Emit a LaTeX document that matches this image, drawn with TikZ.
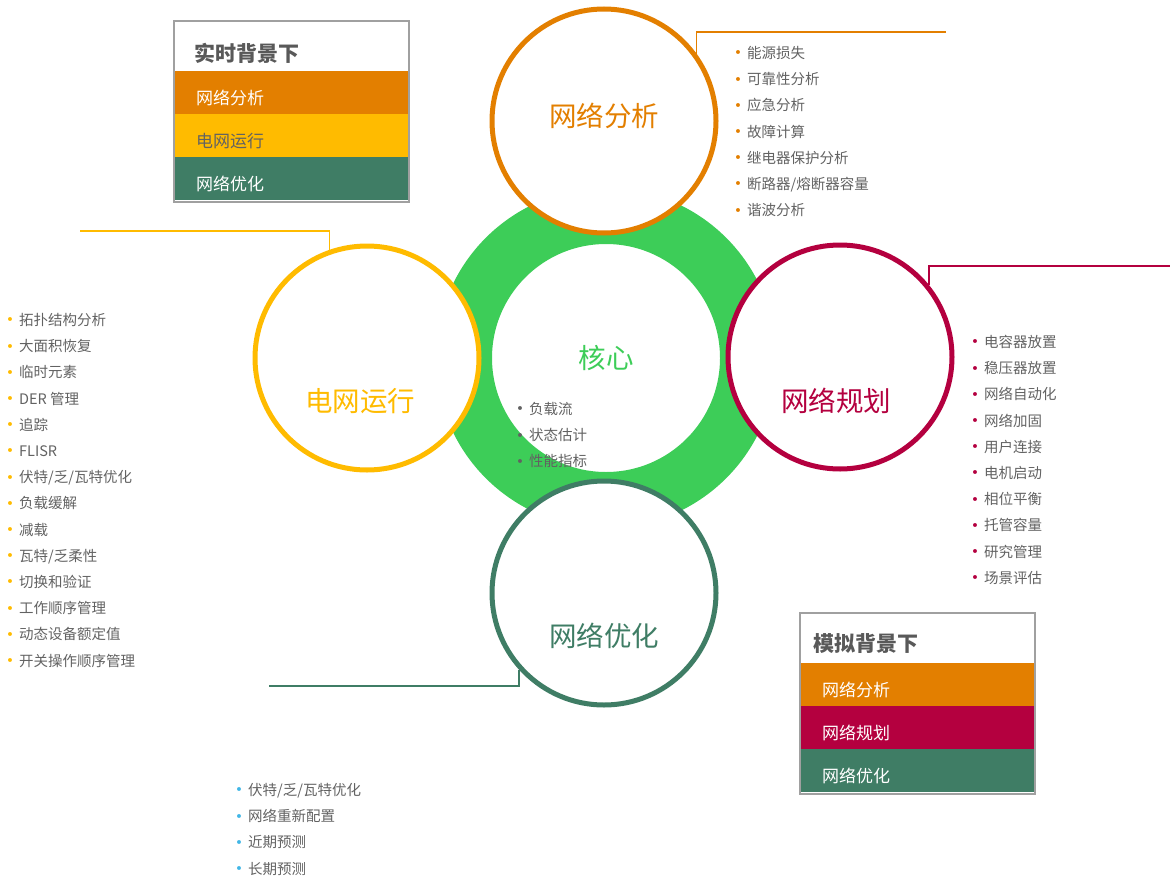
\documentclass[tikz,border=0pt]{standalone}
\usepackage{fontspec}
\setmainfont{Noto Sans CJK SC}
\newfontfamily\dotfont{DejaVu Sans}
\usetikzlibrary{positioning}

\definecolor{anaorange}{HTML}{E37F00}
\definecolor{griyellow}{HTML}{FFBB00}
\definecolor{plancrimson}{HTML}{B4003F}
\definecolor{optteal}{HTML}{3F7D65}
\definecolor{coregreen}{HTML}{3DCD58}
\definecolor{bulblue}{HTML}{41B6E6}
\definecolor{textgray}{HTML}{626262}
\definecolor{titlegray}{HTML}{595959}
\definecolor{framegray}{HTML}{A0A0A0}

\newcommand\bul[1]{\makebox[0pt]{\textcolor{#1}{\raisebox{0.5pt}{\dotfont\fontsize{13.5pt}{13.5pt}\selectfont •}}}\hspace{9pt}}

\tikzset{
  circ/.style={circle,draw=#1,line width=5pt,fill=white,minimum size=224pt,inner sep=0pt},
  circlbl/.style={inner sep=0pt,font=\fontsize{27.5pt}{30pt}\selectfont},
  link/.style={draw=#1,line width=1.5pt},
  itemlist/.style={align=left,inner sep=0pt,anchor=north west,text=textgray,
    font=\fontsize{14.5pt}{26.2pt}\selectfont},
  legframe/.style={draw=framegray,line width=2pt,fill=white,minimum width=235pt,
    minimum height=181pt,inner sep=0pt},
  legtitle/.style={anchor=west,inner sep=0pt,text=titlegray,
    font=\fontsize{21pt}{24pt}\selectfont\bfseries},
  legband/.style={fill=#1,text width=233pt,minimum height=43pt,inner xsep=0pt,
    inner ysep=0pt,outer sep=0pt,align=left,text height=33.5pt,text depth=9.5pt,
    font=\fontsize{17pt}{20pt}\selectfont,text=white},
}

\begin{document}
\begin{tikzpicture}[x=1pt,y=-1pt]
  \useasboundingbox (0,0) rectangle (1170,878);

  % core ring
  \node[circle,draw=coregreen,line width=56pt,minimum size=284pt,inner sep=0pt,
        text=coregreen,font=\fontsize{27.5pt}{30pt}\selectfont] (core) at (606,358) {核心};
  \node[itemlist] (coreList) at (520,402)
        {\bul{textgray}负载流\\ \bul{textgray}状态估计\\ \bul{textgray}性能指标};

  % four circles
  \node[circ=anaorange] (ana) at (604,121) {};
  \node[circlbl,text=anaorange] (anaLbl) at ([yshift=5pt]ana.center) {网络分析};

  \node[circ=griyellow] (gri) at (367,358) {};
  \node[circlbl,text=griyellow] (griLbl) at ([xshift=-7pt,yshift=-43pt]gri.center) {电网运行};

  \node[circ=plancrimson] (plan) at (840,357) {};
  \node[circlbl,text=plancrimson] (planLbl) at ([xshift=-4pt,yshift=-44pt]plan.center) {网络规划};

  \node[circ=optteal] (opt) at (604,593) {};
  \node[circlbl,text=optteal] (optLbl) at ([yshift=-43pt]opt.center) {网络优化};

  % connectors
  \coordinate (anaEnd) at (946,32);
  \coordinate (griEnd) at (80,231);
  \coordinate (planEnd) at (1170,266);
  \coordinate (optEnd) at (269,686);
  \draw[link=anaorange] (ana.36) |- (anaEnd);
  \draw[link=griyellow] (gri.109) |- (griEnd);
  \draw[link=plancrimson] (plan.39) |- (planEnd);
  \draw[link=optteal] (opt.222) |- (optEnd);

  % lists
  \node[itemlist] (anaList) at (738,46)
        {\bul{anaorange}能源损失\\ \bul{anaorange}可靠性分析\\ \bul{anaorange}应急分析\\
         \bul{anaorange}故障计算\\ \bul{anaorange}继电器保护分析\\
         \bul{anaorange}断路器/熔断器容量\\ \bul{anaorange}谐波分析};

  \node[itemlist] (griList) at (10,313)
        {\bul{griyellow}拓扑结构分析\\ \bul{griyellow}大面积恢复\\ \bul{griyellow}临时元素\\
         \bul{griyellow}DER 管理\\ \bul{griyellow}追踪\\ \bul{griyellow}FLISR\\
         \bul{griyellow}伏特/乏/瓦特优化\\ \bul{griyellow}负载缓解\\ \bul{griyellow}减载\\
         \bul{griyellow}瓦特/乏柔性\\ \bul{griyellow}切换和验证\\ \bul{griyellow}工作顺序管理\\
         \bul{griyellow}动态设备额定值\\ \bul{griyellow}开关操作顺序管理};

  \node[itemlist] (planList) at (975,335)
        {\bul{plancrimson}电容器放置\\ \bul{plancrimson}稳压器放置\\ \bul{plancrimson}网络自动化\\
         \bul{plancrimson}网络加固\\ \bul{plancrimson}用户连接\\ \bul{plancrimson}电机启动\\
         \bul{plancrimson}相位平衡\\ \bul{plancrimson}托管容量\\ \bul{plancrimson}研究管理\\
         \bul{plancrimson}场景评估};

  \node[itemlist] (optList) at (239,783)
        {\bul{bulblue}伏特/乏/瓦特优化\\ \bul{bulblue}网络重新配置\\
         \bul{bulblue}近期预测\\ \bul{bulblue}长期预测};

  % legend: real time
  \node[legframe] (rtBox) at (291.5,111.5) {};
  \node[legtitle] (rtTitle) at (194,53) {实时背景下};
  \node[legband=anaorange,anchor=north west] (rt1) at (175,71) {\hspace*{21pt}网络分析};
  \node[legband=griyellow,text=textgray,below=0pt of rt1] (rt2) {\hspace*{21pt}电网运行};
  \node[legband=optteal,below=0pt of rt2] (rt3) {\hspace*{21pt}网络优化};

  % legend: simulation
  \node[legframe] (simBox) at (917.5,703) {};
  \node[legtitle] (simTitle) at (813,644) {模拟背景下};
  \node[legband=anaorange,anchor=north west] (sim1) at (801,663) {\hspace*{21pt}网络分析};
  \node[legband=plancrimson,below=0pt of sim1] (sim2) {\hspace*{21pt}网络规划};
  \node[legband=optteal,below=0pt of sim2] (sim3) {\hspace*{21pt}网络优化};
\end{tikzpicture}
\end{document}
